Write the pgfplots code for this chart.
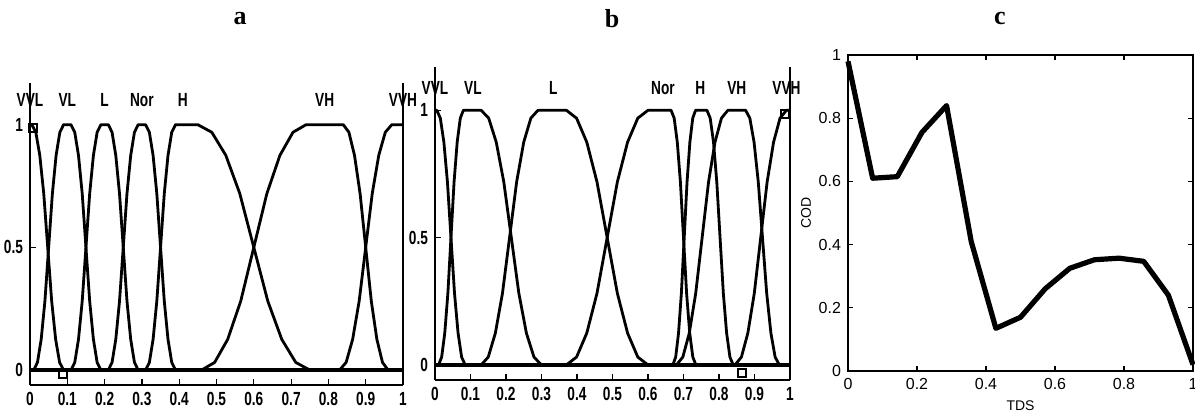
\documentclass[border=0pt]{standalone}
\usepackage{fontspec}
\setmainfont{Liberation Serif}
\setsansfont{Liberation Sans}
\usepackage{graphicx}
\usepackage{pgfplots}
\pgfplotsset{compat=1.18}
\newcommand\lab[1]{\scalebox{0.72}[1]{\sffamily\bfseries\fontsize{9.5}{10}\selectfont #1}}
\pgfplotsset{
  mfaxis/.style={
    scale only axis,
    anchor=south west,
    xmin=0, xmax=1,
    axis x line*=bottom, axis y line*=left,
    axis line style={line width=0.8pt},
    xtick={0,0.1,0.2,0.3,0.4,0.5,0.6,0.7,0.8,0.9,1},
    xticklabels={\lab{0},\lab{0.1},\lab{0.2},\lab{0.3},\lab{0.4},\lab{0.5},\lab{0.6},\lab{0.7},\lab{0.8},\lab{0.9},\lab{1}},
    ytick={0,0.5,1},
    yticklabels={\lab{0},\lab{0.5},\lab{1}},
    tick align=inside,
    major tick length=3pt,
    tick style={line width=0.6pt, black},
    clip=false,
    cycle list={black,solid,line width=1.4pt,mark=none,line join=round\\},
  },
  sq/.style={draw=black, line width=1.1pt, only marks, mark=square, mark size=2pt, mark options={solid, fill=none, draw=black}},
}
\begin{document}
\begin{tikzpicture}
\useasboundingbox (0,0) rectangle (597.5pt,207.5pt);
\node[font=\bfseries\fontsize{13}{14}\selectfont] at (120pt,198pt) {a};
\node[font=\bfseries\fontsize{13}{14}\selectfont] at (306pt,198pt) {b};
\node[font=\bfseries\fontsize{13}{14}\selectfont] at (500pt,198pt) {c};

% ---------------- panel a ----------------
\begin{axis}[mfaxis, at={(15pt,15pt)}, width=186.5pt, height=151pt, ymin=-0.061, ymax=1.17]
\addplot+[line width=2.2pt] coordinates {(0,0) (1,0)};
% VVL
\addplot coordinates {(0,1) (0.005,1) (0.015625,0.969) (0.02625,0.875) (0.036875,0.719) (0.0475,0.5) (0.058125,0.281) (0.06875,0.125) (0.079375,0.031) (0.09,0)};
% VL
\addplot coordinates {(0.01,0) (0.02,0.031) (0.03,0.125) (0.04,0.281) (0.05,0.5) (0.06,0.719) (0.07,0.875) (0.08,0.969) (0.09,1) (0.11,1) (0.12,0.969) (0.13,0.875) (0.14,0.719) (0.15,0.5) (0.16,0.281) (0.17,0.125) (0.18,0.031) (0.19,0)};
% L
\addplot coordinates {(0.11,0) (0.12,0.031) (0.13,0.125) (0.14,0.281) (0.15,0.5) (0.16,0.719) (0.17,0.875) (0.18,0.969) (0.19,1) (0.21,1) (0.22,0.969) (0.23,0.875) (0.24,0.719) (0.25,0.5) (0.26,0.281) (0.27,0.125) (0.28,0.031) (0.29,0)};
% Nor
\addplot coordinates {(0.21,0) (0.22,0.031) (0.23,0.125) (0.24,0.281) (0.25,0.5) (0.26,0.719) (0.27,0.875) (0.28,0.969) (0.29,1) (0.31,1) (0.32,0.969) (0.33,0.875) (0.34,0.719) (0.35,0.5) (0.36,0.281) (0.37,0.125) (0.38,0.031) (0.39,0)};
% H
\addplot coordinates {(0.31,0) (0.32,0.031) (0.33,0.125) (0.34,0.281) (0.35,0.5) (0.36,0.719) (0.37,0.875) (0.38,0.969) (0.39,1) (0.45,1) (0.4875,0.969) (0.525,0.875) (0.5625,0.719) (0.6,0.5) (0.6375,0.281) (0.675,0.125) (0.7125,0.031) (0.75,0)};
% VH
\addplot coordinates {(0.46,0) (0.495,0.031) (0.53,0.125) (0.565,0.281) (0.6,0.5) (0.635,0.719) (0.67,0.875) (0.705,0.969) (0.74,1) (0.84,1) (0.855,0.969) (0.87,0.875) (0.885,0.719) (0.9,0.5) (0.915,0.281) (0.93,0.125) (0.945,0.031) (0.96,0)};
% VVH
\addplot coordinates {(0.83,0) (0.8475,0.031) (0.865,0.125) (0.8825,0.281) (0.9,0.5) (0.9175,0.719) (0.935,0.875) (0.9525,0.969) (0.97,1) (1,1)};
\addplot[sq] coordinates {(0.008,0.985) (0.088,-0.015)};
\draw[line width=0.8pt] (rel axis cs:1,0) -- (rel axis cs:1,1);
\node at (axis cs:0,1.1) {\lab{VVL}};
\node at (axis cs:0.1,1.1) {\lab{VL}};
\node at (axis cs:0.2,1.1) {\lab{L}};
\node at (axis cs:0.3,1.1) {\lab{Nor}};
\node at (axis cs:0.41,1.1) {\lab{H}};
\node at (axis cs:0.79,1.1) {\lab{VH}};
\node at (axis cs:1,1.1) {\lab{VVH}};
\end{axis}

% ---------------- panel b ----------------
\begin{axis}[mfaxis, at={(217.5pt,17.5pt)}, width=177.5pt, height=156.5pt, ymin=-0.059, ymax=1.17]
\addplot+[line width=2.2pt] coordinates {(0,0) (1,0)};
% VVL
\addplot coordinates {(0,1) (0.005,1) (0.015,0.969) (0.025,0.875) (0.035,0.719) (0.045,0.5) (0.055,0.281) (0.065,0.125) (0.075,0.031) (0.085,0)};
% VL
\addplot coordinates {(0.01,0) (0.01875,0.031) (0.0275,0.125) (0.03625,0.281) (0.045,0.5) (0.05375,0.719) (0.0625,0.875) (0.07125,0.969) (0.08,1) (0.13,1) (0.15125,0.969) (0.1725,0.875) (0.19375,0.719) (0.215,0.5) (0.23625,0.281) (0.2575,0.125) (0.27875,0.031) (0.30,0)};
% L
\addplot coordinates {(0.13,0) (0.15,0.031) (0.17,0.125) (0.19,0.281) (0.21,0.5) (0.23,0.719) (0.25,0.875) (0.27,0.969) (0.29,1) (0.37,1) (0.39875,0.969) (0.4275,0.875) (0.45625,0.719) (0.485,0.5) (0.51375,0.281) (0.5425,0.125) (0.57125,0.031) (0.60,0)};
% Nor
\addplot coordinates {(0.37,0) (0.39875,0.031) (0.4275,0.125) (0.45625,0.281) (0.485,0.5) (0.51375,0.719) (0.5425,0.875) (0.57125,0.969) (0.60,1) (0.665,1) (0.67375,0.969) (0.6825,0.875) (0.69125,0.719) (0.70,0.5) (0.70875,0.281) (0.7175,0.125) (0.72625,0.031) (0.735,0)};
% H
\addplot coordinates {(0.67,0) (0.678,0.031) (0.686,0.125) (0.694,0.281) (0.702,0.5) (0.71,0.719) (0.718,0.875) (0.726,0.969) (0.734,1) (0.766,1) (0.77525,0.969) (0.7845,0.875) (0.79375,0.719) (0.803,0.5) (0.81225,0.281) (0.8215,0.125) (0.83075,0.031) (0.84,0)};
% VH
\addplot coordinates {(0.68,0) (0.698125,0.031) (0.71625,0.125) (0.734375,0.281) (0.7525,0.5) (0.770625,0.719) (0.78875,0.875) (0.806875,0.969) (0.825,1) (0.875,1) (0.886875,0.969) (0.89875,0.875) (0.910625,0.719) (0.9225,0.5) (0.934375,0.281) (0.94625,0.125) (0.958125,0.031) (0.97,0)};
% VVH
\addplot coordinates {(0.845,0) (0.863125,0.031) (0.88125,0.125) (0.899375,0.281) (0.9175,0.5) (0.935625,0.719) (0.95375,0.875) (0.971875,0.969) (0.99,1) (1,1)};
\addplot[sq] coordinates {(0.865,-0.03) (0.985,0.985)};
\draw[line width=0.8pt] (rel axis cs:1,0) -- (rel axis cs:1,1);
\node at (axis cs:0,1.086) {\lab{VVL}};
\node at (axis cs:0.107,1.086) {\lab{VL}};
\node at (axis cs:0.333,1.086) {\lab{L}};
\node at (axis cs:0.642,1.086) {\lab{Nor}};
\node at (axis cs:0.747,1.086) {\lab{H}};
\node at (axis cs:0.85,1.086) {\lab{VH}};
\node at (axis cs:0.99,1.086) {\lab{VVH}};
\end{axis}

% ---------------- panel c ----------------
\begin{axis}[scale only axis, anchor=south west, at={(424pt,22pt)}, width=172.5pt, height=158pt,
  xmin=0, xmax=1, ymin=0, ymax=1,
  axis line style={line width=0.8pt},
  xtick={0,0.2,0.4,0.6,0.8,1}, ytick={0,0.2,0.4,0.6,0.8,1},
  xticklabels={0,0.2,0.4,0.6,0.8,1}, yticklabels={0,0.2,0.4,0.6,0.8,1},
  ticklabel style={font=\sffamily\fontsize{8}{9}\selectfont},
  label style={font=\sffamily\fontsize{7}{8}\selectfont},
  xlabel={TDS}, ylabel={COD},
  xlabel style={yshift=1pt}, ylabel style={yshift=-3pt},
  tick align=inside, major tick length=2.5pt,
  tick style={line width=0.6pt, black},
  clip=false]
\addplot[line width=2.6pt, black, no marks, line join=round] coordinates {(0,0.98) (0.0714,0.61) (0.1429,0.615) (0.2143,0.755) (0.2857,0.84) (0.3571,0.41) (0.4286,0.135) (0.5,0.17) (0.5714,0.26) (0.6429,0.325) (0.7143,0.352) (0.7857,0.357) (0.8571,0.347) (0.9286,0.24) (1,0.02)};
\end{axis}
\end{tikzpicture}
\end{document}
